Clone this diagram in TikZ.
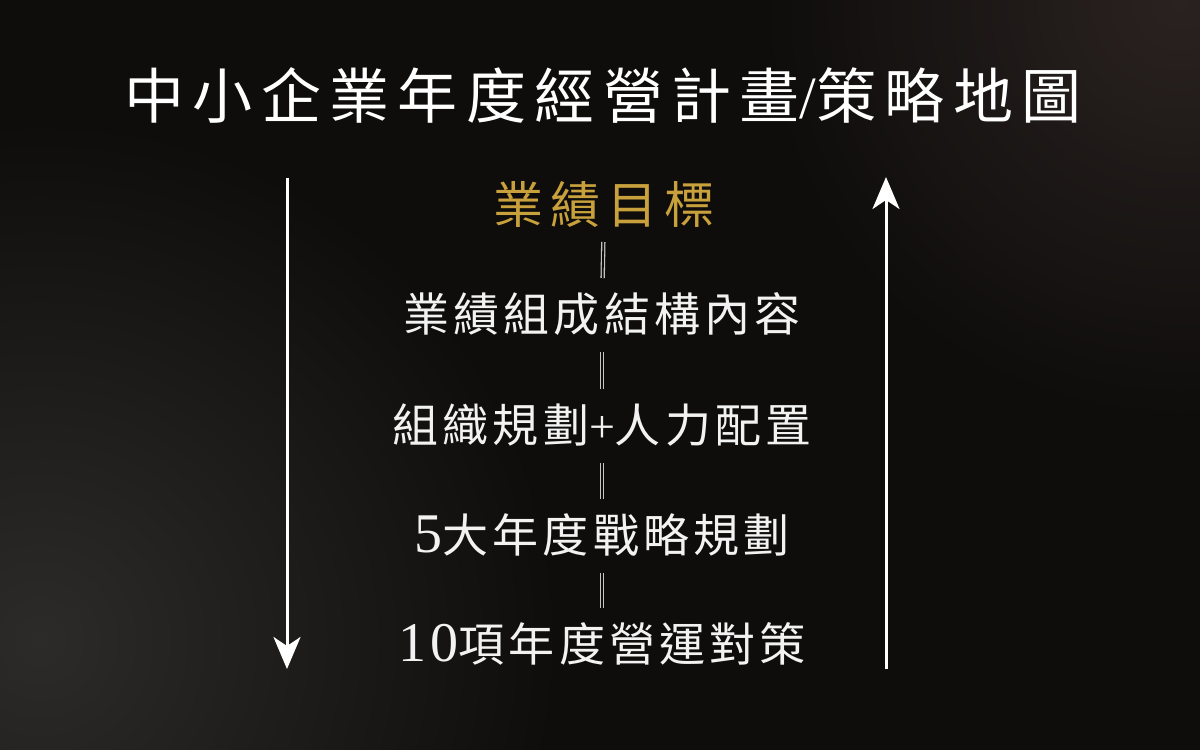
\documentclass[tikz,border=0pt]{standalone}
\usepackage{fontspec}
\newfontfamily\cjkfont{Noto Sans CJK TC}
\newfontfamily\numfont[LetterSpace=8]{Liberation Serif}
\newcommand\tallnum[1]{{\numfont\fontsize{56}{56}\selectfont #1}}
\usetikzlibrary{arrows.meta}
\definecolor{bgbase}{HTML}{0E0D0C}
\definecolor{bglow}{HTML}{2C2B29}
\definecolor{bghigh}{HTML}{2A2220}
\definecolor{goldtext}{HTML}{C9A13C}
\definecolor{linkgray}{HTML}{C4C4C4}

\begin{document}
\begin{tikzpicture}[x=1pt,y=-1pt,
  title/.style={text=white,inner sep=0,font=\cjkfont\addfontfeature{LetterSpace=14}\fontsize{60}{60}\selectfont},
  goal/.style={text=goldtext,inner sep=0,font=\cjkfont\addfontfeature{LetterSpace=14}\fontsize{50}{50}\selectfont},
  item/.style={text=white!95!black,inner sep=0,font=\cjkfont\addfontfeature{LetterSpace=9}\fontsize{46}{46}\selectfont},
  link/.style={draw=linkgray,line width=1.3pt,double=bgbase,double distance=1.8pt,shorten <=38pt,shorten >=36pt},
  flow/.style={draw=white,line width=3pt,-{Stealth[length=32pt,width=27pt,inset=9pt]}}]
% background
\fill[bgbase] (0,0) rectangle (1200,750);
\begin{scope}
\clip (0,0) rectangle (1200,750);
\shade[inner color=bglow,outer color=bgbase] (40,640) circle (520);
\shade[inner color=bghigh,outer color=bgbase] (1180,0) circle (420);
\end{scope}
\useasboundingbox (0,0) rectangle (1200,750);

% texts
\node[title] (title) at (603,95) {中小企業年度經營計畫{\numfont /}策略地圖};
\node[goal] (goal) at (604,204) {業績目標};
\node[item] (struct) at (602,314) {業績組成結構內容};
\node[item] (org) at (602,425) {組織規劃{\numfont +}人力配置};
\node[item] (strat) at (602,535) {\tallnum{5}大年度戰略規劃};
\node[item] (tact) at (602,644) {\tallnum{10}項年度營運對策};

% connectors
\draw[link] (goal.center) -- (struct.center);
\draw[link] (struct.center) -- (org.center);
\draw[link] (org.center) -- (strat.center);
\draw[link] (strat.center) -- (tact.center);

% side arrows
\coordinate (downstart) at (287,178);
\coordinate (downend) at (287,669);
\coordinate (upstart) at (886,669);
\coordinate (upend) at (886,177);
\draw[flow] (downstart) -- (downend);
\draw[flow] (upstart) -- (upend);
\end{tikzpicture}
\end{document}
